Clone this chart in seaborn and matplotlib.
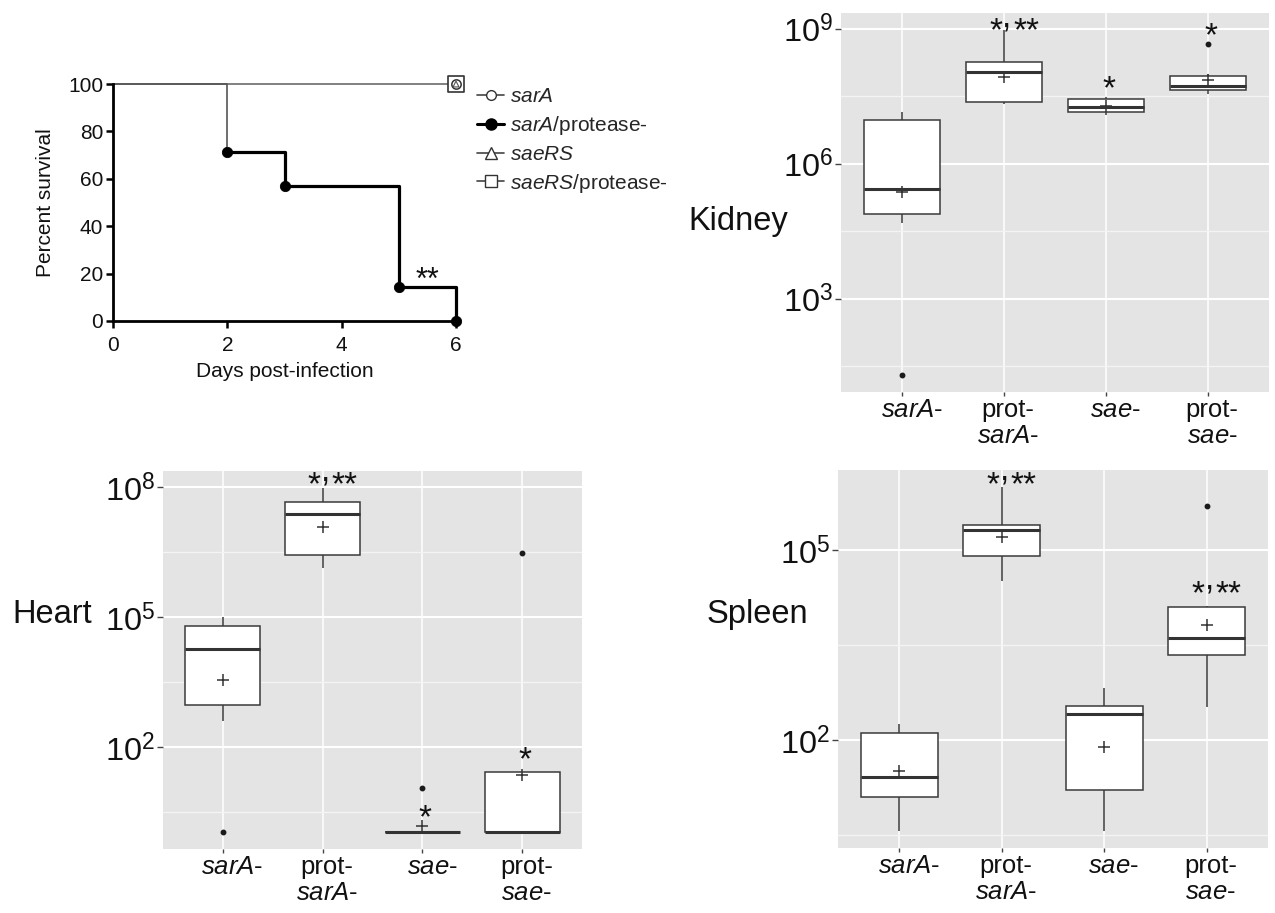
import numpy as np
import pandas as pd
import matplotlib
matplotlib.use("Agg")
import matplotlib.pyplot as plt
import matplotlib.transforms as mtransforms
from matplotlib.lines import Line2D
import seaborn as sns

# ---------------- data ----------------
# Survival (percent) vs days post-infection
days_prot = [0, 2, 3, 5, 6]            # sarA/protease-
surv_prot = [100, 71.4, 57.1, 14.3, 0]
days_ctrl = [0, 6]                      # sarA, saeRS, saeRS/protease- (all 100 %)
surv_ctrl = [100, 100]

legend_labels = [r"$\mathit{sarA}$", r"$\mathit{sarA}$/protease-",
                 r"$\mathit{saeRS}$", r"$\mathit{saeRS}$/protease-"]

groups = ["sarA-", "prot-sarA-", "sae-", "prot-sae-"]
group_ticklabels = [r"$\mathit{sarA}$-", "prot-\n" + r"$\mathit{sarA}$-",
                    r"$\mathit{sae}$-", "prot-\n" + r"$\mathit{sae}$-"]

# log10 CFU per mouse (read from box statistics)
kidney_sarA      = [1.31, 4.68, 4.89, 5.10, 5.45, 5.70, 6.98, 7.07, 7.15]
kidney_prot_sarA = [7.32, 7.35, 7.38, 7.60, 8.05, 8.10, 8.26, 8.34, 8.97]
kidney_sae       = [7.09, 7.12, 7.15, 7.20, 7.26, 7.33, 7.43, 7.45, 7.49]
kidney_prot_sae  = [7.56, 7.63, 7.65, 7.70, 7.72, 7.94, 7.96, 8.00, 8.67]

heart_sarA      = [0.05, 2.60, 2.97, 3.20, 4.27, 4.30, 4.81, 4.85, 5.00]
heart_prot_sarA = [6.14, 6.30, 6.44, 6.80, 7.39, 7.45, 7.65, 7.66, 7.98]
heart_sae       = [0.05, 0.05, 0.05, 0.05, 0.05, 0.05, 1.05]
heart_prot_sae  = [0.05, 0.05, 0.05, 0.05, 1.40, 1.44, 6.48]

spleen_sarA      = [0.57, 1.00, 1.11, 1.35, 1.42, 1.70, 2.11, 2.16, 2.26]
spleen_prot_sarA = [4.51, 4.80, 4.92, 5.20, 5.33, 5.38, 5.41, 5.43, 6.00]
spleen_sae       = [0.57, 0.90, 1.21, 1.60, 2.42, 2.45, 2.55, 2.57, 2.83]
spleen_prot_sae  = [2.52, 3.30, 3.35, 3.60, 3.61, 4.05, 4.11, 4.13, 5.71]

kidney_ticks = [3, 6, 9]
heart_ticks = [2, 5, 8]
spleen_ticks = [2, 5]

# significance marks: (group index, log10 position, text)
kidney_stars = [(1, 9.10, "*,**"), (2, 7.81, "*"), (3, 8.98, "*")]
heart_stars = [(1, 8.20, "*,**"), (2, 0.51, "*"), (3, 1.85, "*")]
spleen_stars = [(1, 6.14, "*,**"), (3, 4.42, "*,**")]

# ---------------- style ----------------
sns.set_theme(style="darkgrid")
plt.rcParams["font.family"] = ["Liberation Sans", "DejaVu Sans"]
plt.rcParams["mathtext.fontset"] = "custom"
plt.rcParams["mathtext.rm"] = "Liberation Sans"
plt.rcParams["mathtext.it"] = "Liberation Sans:italic"
plt.rcParams["mathtext.bf"] = "Liberation Sans:bold"

W, H = 1275, 913
fig = plt.figure(figsize=(W / 100, H / 100), dpi=100)
fig.patch.set_facecolor("white")
TXT = "#111111"


def box(l, t, r, b):
    return [l / W, 1 - b / H, (r - l) / W, (b - t) / H]


def star_mark(ax, x, y, txt, fs=24, dx=2):
    """Draw significance asterisks whose glyph centre sits at (x, y)."""
    base = -0.47 * fs
    kw = dict(xy=(x, y), textcoords="offset points", va="baseline",
              fontsize=fs, color=TXT)
    if "," in txt:
        left, right = txt.split(",")
        half = 0.14 * fs
        ax.annotate(left, xytext=(dx - half, base), ha="right", **kw)
        ax.annotate(",", xytext=(dx, base + 0.42 * fs), ha="center", **kw)
        ax.annotate(right, xytext=(dx + half + 0.05 * fs, base), ha="left", **kw)
    else:
        ax.annotate(txt, xytext=(dx, base), ha="center", **kw)


# ---------------- survival panel ----------------
ax0 = fig.add_axes(box(113, 84, 456, 321))
ax0.set_facecolor("white")
ax0.grid(False)
sns.lineplot(x=days_ctrl, y=surv_ctrl, ax=ax0, color="#808080", lw=1.4,
             estimator=None, clip_on=False, legend=False)
sns.lineplot(x=days_prot, y=surv_prot, ax=ax0, color="#555555", lw=1.2,
             estimator=None, drawstyle="steps-post", clip_on=False, legend=False)
sns.lineplot(x=days_prot[1:], y=surv_prot[1:], ax=ax0, color="black", lw=2.3,
             estimator=None, drawstyle="steps-post", clip_on=False, legend=False)
sns.scatterplot(x=days_prot[1:], y=surv_prot[1:], ax=ax0, color="black", s=55,
                edgecolor="black", clip_on=False, zorder=5, legend=False)
ax0.scatter([days_ctrl[-1]], [surv_ctrl[-1]], marker="s", s=130, facecolor="white",
            edgecolor="#333333", lw=1.2, clip_on=False, zorder=6)
ax0.scatter([days_ctrl[-1]], [surv_ctrl[-1]], marker="o", s=45, facecolor="white",
            edgecolor="#333333", lw=1.1, clip_on=False, zorder=7)
ax0.scatter([days_ctrl[-1]], [surv_ctrl[-1]], marker="^", s=18, facecolor="none",
            edgecolor="#555555", lw=0.8, clip_on=False, zorder=8)
ax0.set_xlim(0, 6)
ax0.set_ylim(0, 100)
ax0.set_xticks([0, 2, 4, 6])
ax0.set_yticks([0, 20, 40, 60, 80, 100])
for side in ["top", "right"]:
    ax0.spines[side].set_visible(False)
for side in ["left", "bottom"]:
    ax0.spines[side].set_color("black")
    ax0.spines[side].set_linewidth(2.0)
ax0.tick_params(axis="both", length=5, width=1.8, color="black", direction="out",
                labelsize=15, labelcolor=TXT, left=True, bottom=True)
ax0.tick_params(axis="y", pad=2)
ax0.tick_params(axis="x", pad=6)
ax0.set_xlabel("Days post-infection", fontsize=15, color=TXT)
ax0.set_ylabel("Percent survival", fontsize=15, color=TXT)
ax0.xaxis.set_label_coords(0.5, -0.175)
ax0.yaxis.set_label_coords(-0.17, 0.5)
star_mark(ax0, 5.5, 19.4, "**", fs=22, dx=0)

handles = [
    Line2D([0], [0], color="#444444", lw=1.2, marker="o", ms=7, mfc="white", mec="#333333"),
    Line2D([0], [0], color="black", lw=2.2, marker="o", ms=8, mfc="black", mec="black"),
    Line2D([0], [0], color="#444444", lw=1.2, marker="^", ms=9, mfc="white", mec="#333333"),
    Line2D([0], [0], color="#444444", lw=1.2, marker="s", ms=9, mfc="white", mec="#333333"),
]
fig.legend(handles, legend_labels, loc="upper left", bbox_to_anchor=(477 / W, 1 - 87 / H),
           frameon=False, fontsize=15, handlelength=1.3, handletextpad=0.3,
           labelspacing=0.38, borderpad=0, borderaxespad=0)


# ---------------- organ panels ----------------
def organ_panel(rect, values, ticks, stars):
    ax = fig.add_axes(rect)
    df = pd.DataFrame({"group": np.repeat(groups, [len(v) for v in values]),
                       "log10_cfu": np.concatenate(values)})
    sns.boxplot(data=df, x="group", y="log10_cfu", order=groups, ax=ax,
                color="white", saturation=1, width=0.75, linecolor="#3a3a3a",
                linewidth=1.1, showcaps=False, showmeans=True,
                meanprops=dict(marker="+", markeredgecolor="#333333",
                               markerfacecolor="#333333", markersize=8, markeredgewidth=1.1),
                flierprops=dict(marker="o", markerfacecolor="#1a1a1a",
                                markeredgecolor="#1a1a1a", markersize=3.2),
                medianprops=dict(linewidth=2.2, color="#333333"))
    lo, hi = df["log10_cfu"].min(), df["log10_cfu"].max()
    pad = 0.05 * (hi - lo)
    ax.set_ylim(lo - pad, hi + pad)
    ax.set_xlim(-0.6, 3.6)
    ax.set_facecolor("#E4E4E4")
    ax.set_yticks(ticks)
    ax.set_yticklabels([rf"$\mathregular{{10^{{{t}}}}}$" for t in ticks])
    minors = [t - 1.5 for t in ticks] + [ticks[-1] + 1.5]
    minors = [m for m in minors if lo - pad < m < hi + pad]
    ax.set_yticks(minors, minor=True)
    ax.set_xticks(range(len(groups)))
    ax.set_xticklabels(group_ticklabels, linespacing=1.1)
    ax.grid(which="major", axis="y", color="white", lw=1.5)
    ax.grid(which="minor", axis="y", color="#F4F4F4", lw=0.9)
    ax.xaxis.grid(True, which="major", color="white", lw=1.1)
    for s in ax.spines.values():
        s.set_visible(False)
    ax.tick_params(axis="y", which="major", length=4.5, width=1, color="#444444",
                   labelsize=23.4, pad=1.5, left=True, labelcolor=TXT)
    ax.tick_params(axis="x", which="major", length=3, width=1, color="#444444",
                   labelsize=18.5, pad=1.5, bottom=True, labelcolor=TXT)
    ax.tick_params(which="minor", length=0)
    ax.set_xlabel("")
    ax.set_ylabel("")
    for lab, txt in zip(ax.get_xticklabels(), group_ticklabels):
        dx = 3 if "\n" in txt else 7
        lab.set_transform(lab.get_transform() +
                          mtransforms.ScaledTranslation(dx / 72, 0, fig.dpi_scale_trans))
    for gi, yv, txt in stars:
        star_mark(ax, gi, yv, txt)
    return ax


organ_panel(box(841, 13, 1269, 392),
            [kidney_sarA, kidney_prot_sarA, kidney_sae, kidney_prot_sae],
            kidney_ticks, kidney_stars)
organ_panel(box(163, 471, 582, 849),
            [heart_sarA, heart_prot_sarA, heart_sae, heart_prot_sae],
            heart_ticks, heart_stars)
organ_panel(box(838, 470, 1268, 848),
            [spleen_sarA, spleen_prot_sarA, spleen_sae, spleen_prot_sae],
            spleen_ticks, spleen_stars)

fig.text(688 / W, 1 - 230 / H, "Kidney", fontsize=23.5, ha="left", va="baseline", color=TXT)
fig.text(12 / W, 1 - 623 / H, "Heart", fontsize=23.5, ha="left", va="baseline", color=TXT)
fig.text(707 / W, 1 - 623 / H, "Spleen", fontsize=23.5, ha="left", va="baseline", color=TXT)

fig.savefig("out.png", dpi=100, facecolor="white")
